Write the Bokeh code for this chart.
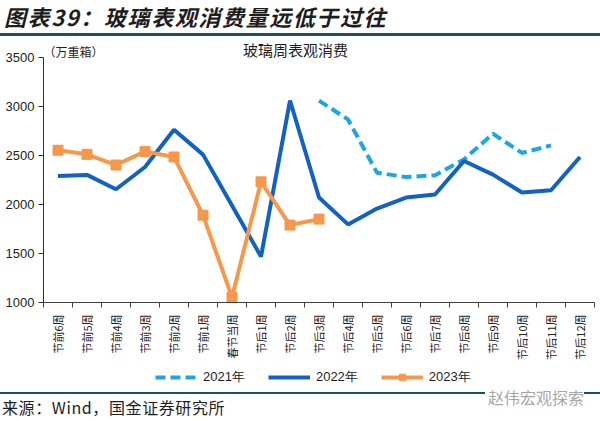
from bokeh.plotting import figure
from bokeh.layouts import column
from bokeh.models import (Range1d, FixedTicker, Label, Legend, LegendItem, Div)
from bokeh.embed import file_html
from bokeh.resources import INLINE
import math

categories = ["节前6周", "节前5周", "节前4周", "节前3周", "节前2周", "节前1周", "春节当周",
              "节后1周", "节后2周", "节后3周", "节后4周", "节后5周", "节后6周", "节后7周",
              "节后8周", "节后9周", "节后10周", "节后11周", "节后12周"]
y2021 = [None] * 9 + [3060, 2868, 2325, 2280, 2298, 2460, 2722, 2526, 2603, None]
y2022 = [2292, 2302, 2156, 2383, 2763, 2509, 1990, 1468, 3061, 2071, 1797, 1959, 2071,
         2102, 2444, 2305, 2122, 2146, 2485]
y2023 = [2553, 2512, 2403, 2542, 2485, 1891, 1054, 2231, 1790, 1851]
y_ticks = [1000, 1500, 2000, 2500, 3000, 3500]
series_names = ["2021年", "2022年", "2023年"]

title_text = "图表39：玻璃表观消费量远低于过往"
chart_title = "玻璃周表观消费"
unit_text = "（万重箱）"
source_text = "来源：Wind，国金证券研究所"
watermark = "赵伟宏观探索"

C21 = "#1CA7E3"
C22 = "#1262C2"
C23 = "#F6984C"
CJK = "Noto Sans CJK SC"
RULE = "#1F4E66"
TXT = "#1e1e1e"

W = 600
TOP_H = 40          # title strip     (canvas y 0..40)
MAIN_H = 328        # chart strip     (canvas y 40..368)
LEG_H = 18          # legend strip    (canvas y 368..386)
BOT_H = 421 - TOP_H - MAIN_H - LEG_H   # source strip (canvas y 386..421)
FRAME_LEFT = 43
FRAME_TOP_PAD = 17  # pixels between frame top and the 3500 level
PLOT_H = 245        # pixels from 1000 to 3500
n = len(categories)
xs = list(range(n))


def split(vals):
    x = [i for i, v in enumerate(vals) if v is not None]
    y = [v for v in vals if v is not None]
    return x, y


x21, v21 = split(y2021)
x23 = list(range(len(y2023)))
style21 = dict(line_color=C21, line_width=4, line_dash="10 5")
style22 = dict(line_color=C22, line_width=4)
style23 = dict(line_color=C23, line_width=4)
style23m = dict(marker="square", size=10, fill_color=C23, line_color=C23)

# ---------------- top strip ----------------
top = Div(width=W, height=TOP_H, margin=0, text=(
    f'<div style="position:relative;width:{W}px;height:{TOP_H}px;">'
    f'<span style="position:absolute;left:4px;top:0px;font-family:\'{CJK}\';font-size:22px;'
    f'letter-spacing:1.6px;font-weight:bold;font-style:italic;color:{TXT};'
    f'line-height:32px;white-space:nowrap;">{title_text}</span>'
    f'<div style="position:absolute;left:0;top:33px;width:{W}px;height:2.5px;'
    f'background:{RULE};"></div></div>'))

# ---------------- main chart ----------------
y_top = 3500 + FRAME_TOP_PAD * 2500 / PLOT_H
x_end = (W - FRAME_LEFT) / 29.0 - 0.5
fig = figure(width=W, height=MAIN_H, output_backend="svg", toolbar_location=None,
             x_range=Range1d(-0.5, x_end), y_range=Range1d(1000, y_top),
             min_border_left=FRAME_LEFT, min_border_right=0, min_border_top=0,
             min_border_bottom=MAIN_H - FRAME_TOP_PAD - PLOT_H)
fig.outline_line_color = None
fig.grid.grid_line_color = None

fig.line(x21, v21, **style21)
fig.line(xs, y2022, **style22)
fig.line(x23, y2023, **style23)
fig.scatter(x23, y2023, **style23m)

fig.xaxis.bounds = (-0.5, n - 0.5)
fig.xaxis.ticker = FixedTicker(ticks=xs, minor_ticks=[i - 0.5 for i in range(n + 1)])
fig.xaxis.major_label_overrides = {i: c for i, c in enumerate(categories)}
fig.xaxis.major_label_orientation = math.pi / 2
fig.xaxis.major_tick_line_color = None
fig.xaxis.minor_tick_line_color = "#404040"
fig.xaxis.minor_tick_out = 5
fig.xaxis.minor_tick_in = 0
fig.xaxis.axis_line_color = "#404040"
fig.xaxis.major_label_text_font = CJK
fig.xaxis.major_label_text_font_size = "11px"
fig.xaxis.major_label_text_color = "#222222"
fig.xaxis.major_label_standoff = 6

fig.yaxis.bounds = (1000, 3500)
fig.yaxis.ticker = FixedTicker(ticks=y_ticks)
fig.yaxis.minor_tick_line_color = None
fig.yaxis.major_tick_out = 5
fig.yaxis.major_tick_in = 0
fig.yaxis.axis_line_color = "#303030"
fig.yaxis.major_tick_line_color = "#303030"
fig.yaxis.major_label_text_font = "Liberation Sans"
fig.yaxis.major_label_text_font_size = "13px"
fig.yaxis.major_label_text_color = "#222222"
fig.yaxis.major_label_standoff = 4

frame_bottom = TOP_H + FRAME_TOP_PAD + PLOT_H   # canvas y of the x axis (302)
fig.add_layout(Label(x=295 - FRAME_LEFT, y=frame_bottom - 49, x_units="screen",
                     y_units="screen", text=chart_title, text_font=CJK, text_font_size="15px",
                     text_align="center", text_baseline="middle", text_color=TXT))
fig.add_layout(Label(x=43 - FRAME_LEFT, y=frame_bottom - 51, x_units="screen",
                     y_units="screen", text=unit_text, text_font=CJK, text_font_size="12px",
                     text_baseline="middle", text_color=TXT))

# ---------------- legend strip ----------------
leg = figure(width=W, height=LEG_H, output_backend="svg", toolbar_location=None,
             x_range=Range1d(-0.5, x_end), y_range=Range1d(1000, y_top),
             min_border_left=FRAME_LEFT, min_border_right=0, min_border_top=0,
             min_border_bottom=0, x_axis_type=None, y_axis_type=None)
leg.outline_line_color = None
leg.grid.grid_line_color = None
k21 = leg.line(x21, v21, visible=False, **style21)
k22 = leg.line(xs, y2022, visible=False, **style22)
k23 = leg.line(x23, y2023, visible=False, **style23)
k23m = leg.scatter(x23, y2023, visible=False, **style23m)
legend = Legend(items=[LegendItem(label=series_names[0], renderers=[k21]),
                       LegendItem(label=series_names[1], renderers=[k22]),
                       LegendItem(label=series_names[2], renderers=[k23, k23m])],
                orientation="horizontal", location=(155 - FRAME_LEFT, 0),
                label_text_font="Liberation Sans", label_text_font_size="13px",
                label_text_color=TXT, glyph_width=42, glyph_height=16, label_height=16,
                spacing=23, label_standoff=6, border_line_color=None,
                background_fill_alpha=0, padding=0, margin=0)
leg.add_layout(legend, "center")

# ---------------- bottom strip ----------------
off = TOP_H + MAIN_H + LEG_H
bot = Div(width=W, height=BOT_H, margin=0, text=(
    f'<div style="position:relative;width:{W}px;height:{BOT_H}px;">'
    f'<div style="position:absolute;left:0;top:{392 - off}px;width:{W}px;height:2px;'
    f'background:{RULE};"></div>'
    f'<span style="position:absolute;right:{W - 584}px;top:0px;'
    f'font-family:\'{CJK}\';font-size:16px;color:#A6A6A6;'
    f'background:white;padding-left:3px;white-space:nowrap;">{watermark}</span>'
    f'<span style="position:absolute;left:2px;top:10px;font-family:\'{CJK}\';'
    f'font-size:16px;letter-spacing:0.6px;color:{TXT};white-space:nowrap;">{source_text}</span>'
    f'</div>'))

p = column(top, fig, leg, bot, spacing=0)
open("out.html", "w").write(file_html(p, INLINE))
